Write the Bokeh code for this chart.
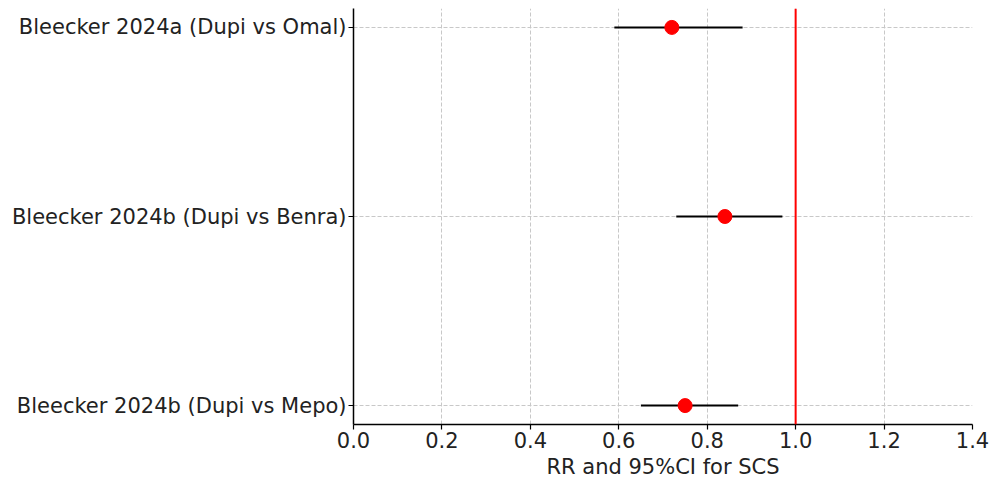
from bokeh.plotting import figure
from bokeh.models import Span, Range1d, FixedTicker, ColumnDataSource
from bokeh.embed import file_html
from bokeh.resources import INLINE

studies = ["Bleecker 2024a (Dupi vs Omal)", "Bleecker 2024b (Dupi vs Benra)", "Bleecker 2024b (Dupi vs Mepo)"]
rr = [0.72, 0.84, 0.75]
ci_low = [0.59, 0.73, 0.65]
ci_high = [0.88, 0.97, 0.87]
x_ticks = [0.0, 0.2, 0.4, 0.6, 0.8, 1.0, 1.2, 1.4]

ypos = [len(studies) - 1 - i for i in range(len(studies))]
src = ColumnDataSource(dict(y=ypos, rr=rr, lo=ci_low, hi=ci_high))

FONT = "DejaVu Sans"
p = figure(width=991, height=481, output_backend="svg", toolbar_location=None,
           x_range=Range1d(0, 1.4), y_range=Range1d(-0.1, 2.1),
           min_border_left=353, min_border_right=19, min_border_top=8, min_border_bottom=50)
p.outline_line_color = None
p.background_fill_color = "white"

p.segment(x0="lo", x1="hi", y0="y", y1="y", source=src, line_color="black", line_width=2)
p.scatter(x="rr", y="y", source=src, size=14, fill_color="red", line_color="red")
p.add_layout(Span(location=1.0, dimension="height", line_color="red", line_width=2))

for ax in (p.xaxis[0], p.yaxis[0]):
    ax.axis_line_color = "black"
    ax.axis_line_width = 1.5
    ax.major_tick_line_width = 1.2
    ax.major_tick_out = 5
    ax.major_tick_in = 0
    ax.minor_tick_line_color = None
    ax.major_label_text_font = FONT
    ax.major_label_text_font_size = "21px"
    ax.major_label_text_color = "#222222"

p.xaxis.ticker = FixedTicker(ticks=x_ticks)
p.xaxis.major_label_overrides = {t: f"{t:.1f}" for t in x_ticks}
p.xaxis.major_label_standoff = 2
p.xaxis.axis_label = "RR and 95%CI for SCS"
p.xaxis.axis_label_text_font = FONT
p.xaxis.axis_label_text_font_size = "21px"
p.xaxis.axis_label_text_font_style = "normal"
p.xaxis.axis_label_text_color = "#222222"
p.xaxis.axis_label_standoff = 4

p.yaxis.ticker = FixedTicker(ticks=ypos)
p.yaxis.major_label_overrides = {y: s for y, s in zip(ypos, studies)}
p.yaxis.major_label_standoff = 2

for g in (p.xgrid[0], p.ygrid[0]):
    g.grid_line_color = "#c8c8c8"
    g.grid_line_dash = "4 2"
    g.grid_line_width = 1
p.xgrid.ticker = FixedTicker(ticks=x_ticks)
p.ygrid.ticker = FixedTicker(ticks=ypos)

open("out.html", "w").write(file_html(p, INLINE))
